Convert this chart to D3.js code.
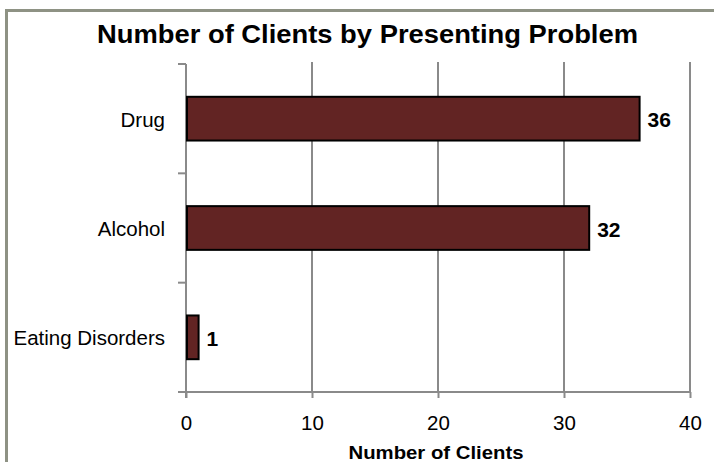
<!DOCTYPE html>
<html>
<head>
<meta charset="utf-8">
<script src="https://cdn.jsdelivr.net/npm/d3@7"></script>
<style>
  html, body { margin: 0; padding: 0; background: #fff; }
  svg { display: block; }
  text { font-family: "Liberation Sans", Arial, sans-serif; fill: #000; }
</style>
</head>
<body>
<script>
// ---- data ----
const categories = ["Drug", "Alcohol", "Eating Disorders"];
const values = [36, 32, 1];
const xTicks = [0, 10, 20, 30, 40];
const title = "Number of Clients by Presenting Problem";
const xTitle = "Number of Clients";

const W = 714, H = 462;
const margin = { left: 186, right: 24, top: 64, bottom: 70 };
const svg = d3.select("body").append("svg").attr("width", W).attr("height", H);

// outer border (left and top visible)
svg.append("rect")
  .attr("x", 6.5).attr("y", 10.5)
  .attr("width", W + 20).attr("height", H + 20)
  .attr("fill", "#fff").attr("stroke", "#8e9284").attr("stroke-width", 3);

const x = d3.scaleLinear().domain([0, 40]).range([margin.left, W - margin.right]);
const yTicksScale = d3.scaleBand().domain(categories).range([margin.top, H - margin.bottom]).padding(0);
const y = d3.scaleBand().domain(categories).range([margin.top, H - margin.bottom])
  .paddingInner(0.6).paddingOuter(0.3);

const gridColor = "#8a8a8a";

// vertical gridlines
svg.append("g").selectAll("line").data(xTicks.filter(d => d > 0)).join("line")
  .attr("x1", d => x(d)).attr("x2", d => x(d))
  .attr("y1", margin.top - 2).attr("y2", H - margin.bottom)
  .attr("stroke", gridColor).attr("stroke-width", 2);

// x axis
const xAxis = svg.append("g").attr("transform", `translate(0,${H - margin.bottom})`)
  .call(d3.axisBottom(x).tickValues(xTicks).tickSize(6).tickPadding(12).tickSizeOuter(0));
xAxis.select(".domain").attr("stroke", gridColor).attr("stroke-width", 2)
  .attr("d", `M${margin.left - 8},0H${W - margin.right}`);
xAxis.selectAll(".tick line").attr("stroke", gridColor).attr("stroke-width", 2);
xAxis.selectAll(".tick text").attr("font-size", 20.5).attr("font-family", "Liberation Sans, Arial, sans-serif")
  .attr("fill", "#000").attr("dy", null).attr("y", 38);

// y axis (ticks at category boundaries)
const yBounds = categories.map(c => yTicksScale(c)).concat([H - margin.bottom]);
svg.append("line")
  .attr("x1", margin.left).attr("x2", margin.left)
  .attr("y1", margin.top).attr("y2", H - margin.bottom + 6)
  .attr("stroke", gridColor).attr("stroke-width", 2);
svg.append("g").selectAll("line").data(yBounds).join("line")
  .attr("x1", margin.left - 8).attr("x2", margin.left)
  .attr("y1", d => d).attr("y2", d => d)
  .attr("stroke", gridColor).attr("stroke-width", 2);

// category labels
svg.append("g").selectAll("text").data(categories).join("text")
  .attr("x", margin.left - 21)
  .attr("y", d => yTicksScale(d) + yTicksScale.bandwidth() / 2 + 8)
  .attr("text-anchor", "end")
  .attr("font-size", 20.5)
  .text(d => d);

// bars
svg.append("g").selectAll("rect").data(categories).join("rect")
  .attr("x", x(0) + 1)
  .attr("y", d => y(d))
  .attr("width", (d, i) => x(values[i]) - x(0) - 1)
  .attr("height", y.bandwidth())
  .attr("fill", "#622423")
  .attr("stroke", "#000").attr("stroke-width", 2);

// value labels
svg.append("g").selectAll("text").data(categories).join("text")
  .attr("x", (d, i) => x(values[i]) + 8)
  .attr("y", d => y(d) + y.bandwidth() / 2 + 8.5)
  .attr("font-size", 21).attr("font-weight", "bold")
  .text((d, i) => values[i]);

// title
svg.append("text")
  .attr("x", 367.5).attr("y", 43)
  .attr("text-anchor", "middle")
  .attr("font-size", 26).attr("font-weight", "bold")
  .attr("textLength", 541).attr("lengthAdjust", "spacingAndGlyphs")
  .text(title);

// x axis title
svg.append("text")
  .attr("x", 436).attr("y", 459)
  .attr("text-anchor", "middle")
  .attr("font-size", 19).attr("font-weight", "bold")
  .attr("textLength", 175).attr("lengthAdjust", "spacingAndGlyphs")
  .text(xTitle);
</script>
</body>
</html>
